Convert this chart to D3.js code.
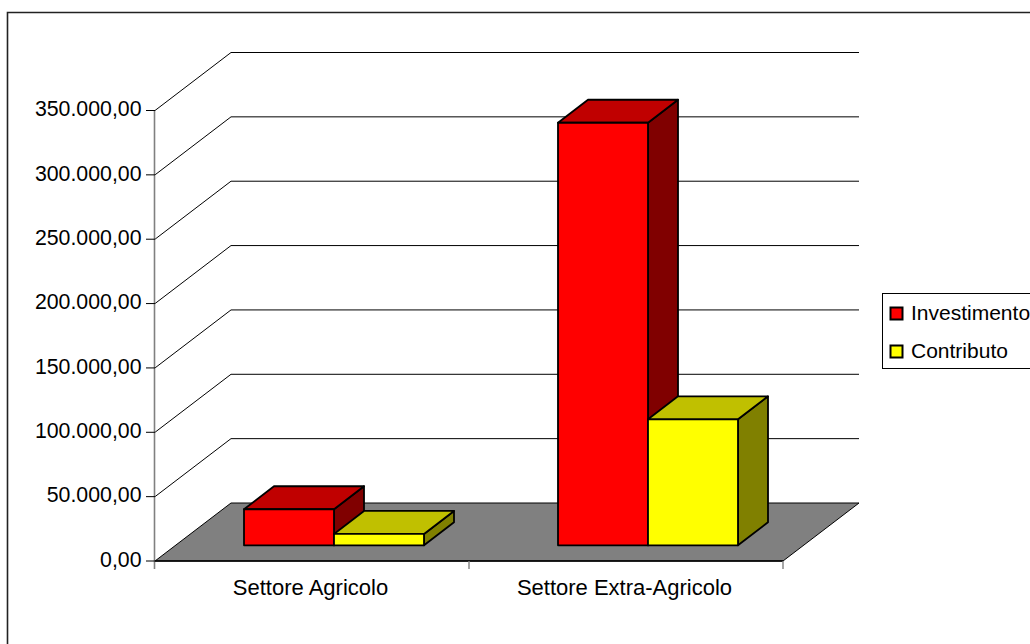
<!DOCTYPE html>
<html><head><meta charset="utf-8">
<script src="https://cdnjs.cloudflare.com/ajax/libs/d3/7.8.5/d3.min.js"></script>
<style>html,body{margin:0;padding:0;background:#fff;overflow:hidden}svg{display:block}text{font-family:"Liberation Sans",Arial,sans-serif;font-size:21px;fill:#000}</style>
</head><body><svg id="c" width="1030" height="644"></svg>
<script>
const categories = ["Settore Agricolo", "Settore Extra-Agricolo"];
const seriesNames = ["Investimento", "Contributo"];
const investimento = [28000, 328300];
const contributo = [8800, 97900];
const yTicks = [0, 50000, 100000, 150000, 200000, 250000, 300000, 350000];
const seriesFill = ["#ff0000", "#ffff00"];
const seriesTop = ["#c00000", "#c0c000"];
const seriesSide = ["#800000", "#808000"];

const svg = d3.select("#c");
const fmt = d3.formatLocale({decimal:",",thousands:".",grouping:[3],currency:["",""]}).format(",.2f");
const X0 = 155, X1 = 783, YB = 561, YT = 110.5, DX = 76, DY = -58;
const BDX = 30, BDY = -23, BASE = 545.3;
const y = d3.scaleLinear().domain([0, 350000]).range([YB, YT]);
const xCat = d3.scaleBand().domain(categories).range([X0, X1]);
const xSer = d3.scaleBand().domain(seriesNames).range([89, 269]);
const poly = p => p.map(d => d.join(",")).join(" ");

// chart frame: only top and left edges are visible
svg.append("path").attr("d","M7.5,644V12.5H1030").attr("fill","none").attr("stroke","#222").attr("stroke-width",1.6);

// floor
svg.append("polygon").attr("points",poly([[X0,YB],[X0+DX,YB+DY],[X1+DX,YB+DY],[X1,YB]]))
  .attr("fill","#808080").attr("stroke","#000");
// wall gridlines
yTicks.forEach(t=>{
  const v=y(t);
  if(t>0){
    svg.append("path").attr("d",`M${X0},${v}L${X0+DX},${v+DY}L${X1+DX},${v+DY}`)
      .attr("fill","none").attr("stroke","#000").attr("stroke-width",1);
  }
});
// axes
svg.append("line").attr("x1",X0-0.5).attr("x2",X0-0.5).attr("y1",YT).attr("y2",YB+8).attr("stroke","#808080").attr("stroke-width",1.6);
const yAxis = svg.append("g").attr("transform",`translate(${X0},0)`)
  .call(d3.axisLeft(y).tickValues(yTicks).tickFormat(fmt).tickSize(9).tickPadding(4.5).offset(0));
yAxis.select(".domain").remove();
yAxis.attr("font-size",null).attr("font-family",null);
yAxis.selectAll("line").attr("stroke","#000");
yAxis.selectAll("text").attr("fill","#000").attr("dy","0.27em").style("font-size","21.3px");
svg.append("line").attr("x1",X0).attr("x2",X1).attr("y1",YB).attr("y2",YB).attr("stroke","#000").attr("stroke-width",1.4);
[...categories.map(c=>xCat(c)+xCat.bandwidth())].forEach(x=>{
  svg.append("line").attr("x1",x).attr("x2",x).attr("y1",YB).attr("y2",YB+8).attr("stroke","#808080").attr("stroke-width",1.4);
});
categories.forEach(c=>{
  svg.append("text").attr("x",xCat(c)+xCat.bandwidth()/2-1.5).attr("y",595).attr("text-anchor","middle").style("font-size","22px").text(c);
});

// bars
const seriesVals = [investimento, contributo];
categories.forEach((c,i)=>{
  seriesNames.forEach((s,k)=>{
    const x0 = xCat(c)+xSer(s), x1 = x0+xSer.bandwidth();
    const top = BASE-(YB-y(seriesVals[k][i]));
    const g = svg.append("g").attr("stroke","#000").attr("stroke-width",1.8).attr("stroke-linejoin","round");
    g.append("polygon").attr("points",poly([[x1,BASE],[x1+BDX,BASE+BDY],[x1+BDX,top+BDY],[x1,top]])).attr("fill",seriesSide[k]);
    g.append("polygon").attr("points",poly([[x0,top],[x0+BDX,top+BDY],[x1+BDX,top+BDY],[x1,top]])).attr("fill",seriesTop[k]);
    g.append("rect").attr("x",x0).attr("y",top).attr("width",x1-x0).attr("height",BASE-top).attr("fill",seriesFill[k]);
  });
});

// legend
svg.append("rect").attr("x",882.5).attr("y",293.5).attr("width",160).attr("height",75).attr("fill","#fff").attr("stroke","#000");
seriesNames.forEach((s,k)=>{
  const ly = [313.5,351.5][k];
  svg.append("rect").attr("x",890.5).attr("y",ly-6).attr("width",12).attr("height",12)
    .attr("fill",seriesFill[k]).attr("stroke","#000").attr("stroke-width",2);
  svg.append("text").attr("x",911).attr("y",ly+6).text(s);
});
</script></body></html>
